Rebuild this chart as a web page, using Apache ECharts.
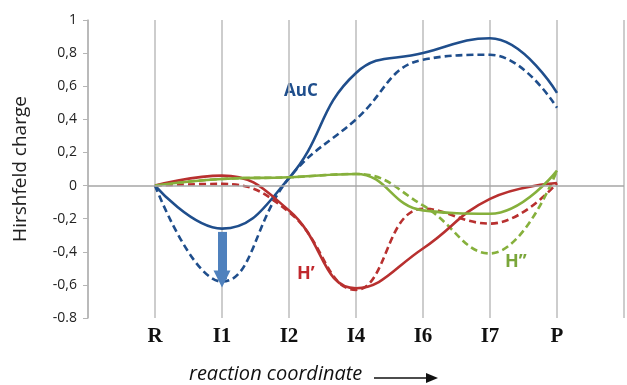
<!DOCTYPE html>
<html>
<head>
<meta charset="utf-8">
<script src="https://cdn.jsdelivr.net/npm/echarts@6/dist/echarts.min.js"></script>
<style>html,body{margin:0;padding:0;background:#fff}#c{width:627px;height:385px}</style>
</head>
<body>
<div id="c"></div>
<script>
var categories = ['R', 'I1', 'I2', 'I4', 'I6', 'I7', 'P'];
var yTicks = [-0.8, -0.6, -0.4, -0.2, 0, 0.2, 0.4, 0.6, 0.8, 1];
var aucSolid   = [0, -0.26, 0.045, 0.68, 0.80, 0.89, 0.56];
var aucDashed  = [0, -0.58, 0.045, 0.40, 0.76, 0.79, 0.47];
var h1Solid    = [0, 0.06, -0.15, -0.62, -0.38, -0.08, 0.015];
var h1Dashed   = [0, 0.01, -0.16, -0.63, -0.14, -0.23, 0.015];
var h2Solid    = [0, 0.04, 0.05, 0.07, -0.15, -0.17, 0.09];
var h2Dashed   = [0, 0.04, 0.05, 0.07, -0.12, -0.41, 0.09];
var arrowFrom = -0.28, arrowTo = -0.565;

var BLUE = '#1f4e8c', RED = '#b8302f', GREEN = '#86b03c';
var axisCats = [''].concat(categories, ['']);
function pad(a) { return [null].concat(a, [null]); }
function line(name, data, color, dashed, extra) {
  var s = {
    name: name, type: 'line', data: pad(data), smooth: 0.45,
    symbol: 'none', z: dashed ? 3 : 4,
    lineStyle: { color: color, width: 2.6, type: dashed ? [7, 4] : 'solid' }
  };
  if (extra) for (var k in extra) s[k] = extra[k];
  return s;
}
var chart = echarts.init(document.getElementById('c'), null, { renderer: 'canvas' });
chart.setOption({
  animation: false,
  grid: { left: 88, right: 1, top: 20, bottom: 67 },
  xAxis: {
    type: 'category', data: axisCats, boundaryGap: false,
    axisLine: { show: false }, axisTick: { show: false },
    axisLabel: { interval: 0, margin: 8, color: '#111', fontFamily: 'Liberation Serif', fontWeight: 'bold', fontSize: 21 },
    splitLine: { show: true, interval: 0, lineStyle: { color: '#bdbdbd', width: 1.5 } }
  },
  yAxis: {
    type: 'value', min: yTicks[0], max: yTicks[yTicks.length - 1], interval: 0.2,
    name: 'Hirshfeld charge', nameLocation: 'middle', nameGap: 58,
    nameTextStyle: { fontFamily: 'Open Sans', fontSize: 19, color: '#222' },
    axisLine: { show: true, lineStyle: { color: '#b5b5b5', width: 1.5 } },
    axisTick: { show: true, length: 5, lineStyle: { color: '#b5b5b5' } },
    splitLine: { show: false },
    axisLabel: {
      margin: 11, color: '#222', fontFamily: 'Open Sans', fontSize: 14,
      formatter: function (v) {
        var r = Math.round(v * 10) / 10;
        if (r === -0.8) return '-0.8';
        return String(r).replace('.', ',');
      }
    }
  },
  series: [
    line('AuC dashed', aucDashed, BLUE, true, {
      markLine: {
        silent: true, symbol: ['none', 'triangle'], symbolSize: 17,
        label: { show: false },
        itemStyle: { color: '#4f81bd' },
        lineStyle: { color: '#4f81bd', width: 9, type: 'solid', opacity: 1 },
        data: [[{ coord: ['I1', arrowFrom] }, { coord: ['I1', arrowTo] }]]
      }
    }),
    line('AuC', aucSolid, BLUE, false, {
      markLine: {
        silent: true, symbol: ['none', 'none'], label: { show: false },
        lineStyle: { color: '#a6a6a6', width: 1.5, type: 'solid' },
        data: [{ yAxis: 0 }]
      }
    }),
    line("H’ dashed", h1Dashed, RED, true),
    line("H’", h1Solid, RED, false),
    line("H’’ dashed", h2Dashed, GREEN, true),
    line("H’’", h2Solid, GREEN, false)
  ],
  graphic: [
    { type: 'text', left: 284, top: 83, style: { text: 'AuC', fill: BLUE, font: 'bold 17px "Open Sans"' } },
    { type: 'text', left: 297, top: 265, style: { text: 'H’', fill: '#c0282d', font: 'bold 18px "Open Sans"' } },
    { type: 'text', left: 505, top: 253, style: { text: 'H’’', fill: '#7aa63a', font: 'bold 18px "Open Sans"' } },
    { type: 'text', left: 189, top: 364, style: { text: 'reaction coordinate', fill: '#111', font: 'italic 20px "Open Sans"' } },
    { type: 'line', shape: { x1: 374, y1: 378, x2: 428, y2: 378 }, style: { stroke: '#111', lineWidth: 1.5 } },
    { type: 'polygon', shape: { points: [[438, 378], [426, 373], [426, 383]] }, style: { fill: '#111' } }
  ]
});
</script>
</body>
</html>
